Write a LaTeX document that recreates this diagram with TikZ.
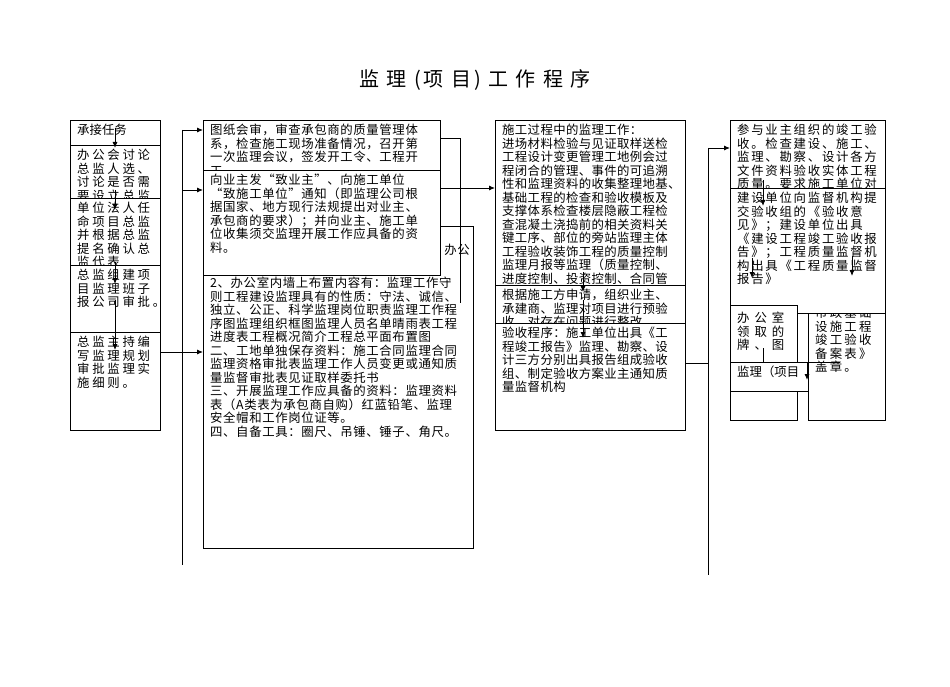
\documentclass[tikz,border=0pt]{standalone}
\usepackage{fontspec}
\newfontfamily\cjk{Noto Sans CJK SC}
\usetikzlibrary{arrows.meta}
\newcommand\bx[7][]{%
\begin{scope}\clip (#2,#3) rectangle (#4,#5);
\fill[white] (#2,#3) rectangle (#4,#5);
\node[txt,#1,anchor=north west] (#7) at ([shift={(7,4)}]#2,#3) {#6};
\end{scope}
\draw[boxline] (#2,#3) rectangle (#4,#5);}
\begin{document}
\begin{tikzpicture}[x=1pt,y=-1pt,
 txt/.style={inner sep=0pt,align=left,font={\cjk\fontsize{12.4}{13.5}\selectfont}},
 sp/.style={font={\cjk\fontsize{12.4}{13.5}\selectfont\addfontfeatures{LetterSpace=#1}}},
 boxline/.style={line width=0.9pt},
 arr/.style={line width=0.9pt,-{Latex[length=6pt,width=5pt]}},
 ln/.style={line width=0.9pt}]
\useasboundingbox (0,0) rectangle (950,687);
\node[font={\cjk\fontsize{20}{22}\selectfont\addfontfeatures{LetterSpace=15}}] (title) at (475,80) {监 理 (项 目) 工 作 程 序};
% column 1
\bx{70}{120}{160}{145}{承接任务}{a1}
\bx[sp=22]{70}{145}{160}{198}{办公会讨论\\总监人选、\\讨论是否需\\要设立总监}{a2}
\bx[sp=22]{70}{198}{160}{265}{单位法人任\\命项目总监\\并根据总监\\提名确认总\\监代表}{a3}
\bx[sp=22]{70}{265}{160}{332}{总监组建项\\目监理班子\\报公司审批。}{a4}
\bx[sp=22]{70}{332}{160}{430}{总监主持编\\写监理规划\\审批监理实\\施细则。}{a5}
\draw[arr] (115,128) -- (115,148);
\draw[arr] (115,190) -- (115,210);
\draw[arr] (115,262) -- (115,284);
\draw[arr] (115,300) -- (115,350);
% column 2
\fill[white] (203,226) rectangle (473,548);
\node[txt,sp=5,anchor=north east] (b3a) at (470,244) {办公};
\node[txt,sp=5,anchor=north west] (b3) at (210,277) {2、办公室内墙上布置内容有：监理工作守\\则工程建设监理具有的性质：守法、诚信、\\独立、公正、科学监理岗位职责监理工作程\\序图监理组织框图监理人员名单晴雨表工程\\进度表工程概况简介工程总平面布置图\\二、工地单独保存资料：施工合同监理合同\\监理资格审批表监理工作人员变更或通知质\\量监督审批表见证取样委托书\\三、开展监理工作应具备的资料：监理资料\\表（A类表为承包商自购）红蓝铅笔、监理\\安全帽和工作岗位证等。\\四、自备工具：圈尺、吊锤、锤子、角尺。};
\draw[boxline] (203,226) rectangle (473,548);
\bx[sp=5]{203}{120}{440}{170}{图纸会审，审查承包商的质量管理体\\系，检查施工现场准备情况，召开第\\一次监理会议，签发开工令、工程开\\工}{b1}
\bx[sp=5]{203}{170}{440}{275}{向业主发“致业主”、向施工单位\\“致施工单位”通知（即监理公司根\\据国家、地方现行法规提出对业主、\\承包商的要求）；并向业主、施工单\\位收集须交监理开展工作应具备的资\\料。}{b2}
\draw[ln] (440,138) -- (460,138) -- (460,303);
\coordinate (l1t) at (182,130); \coordinate (l1b) at (182,565);
\draw[ln] (l1t) -- (l1b);
\draw[arr] (l1t) -- (203,130);
\draw[arr] (182,190) -- (203,190);
\draw[arr] (160,352) -- (203,352);
% column 3
\bx[sp=3]{495}{120}{685}{285}{施工过程中的监理工作：\\进场材料检验与见证取样送检\\工程设计变更管理工地例会过\\程闭合的管理、事件的可追溯\\性和监理资料的收集整理地基、\\基础工程的检查和验收模板及\\支撑体系检查楼层隐蔽工程检\\查混凝土浇捣前的相关资料关\\键工序、部位的旁站监理主体\\工程验收装饰工程的质量控制\\监理月报等监理（质量控制、\\进度控制、投资控制、合同管\\理、信息管理、组织协调）}{c1}
\bx[sp=3]{495}{285}{685}{323}{根据施工方申请，组织业主、\\承建商、监理对项目进行预验\\收，对存在问题进行整改}{c2}
\bx[sp=3]{495}{323}{685}{430}{验收程序：施工单位出具《工\\程竣工报告》监理、勘察、设\\计三方分别出具报告组成验收\\组、制定验收方案业主通知质\\量监督机构}{c3}
\draw[arr] (440,188) -- (495,188);
\draw[arr] (583,272) -- (583,292);
\draw[arr] (583,300) -- (583,338);
\coordinate (l3t) at (708,148); \coordinate (l3b) at (708,575);
\draw[ln] (685,363) -- (708,363);
\draw[ln] (l3t) -- (l3b);
\draw[arr] (l3t) -- (730,148);
% column 4
\bx[sp=18]{808}{300}{885}{420}{\\市政基础\\设施工程\\竣工验收\\备案表》\\盖章。}{d6}
\bx[sp=14]{730}{120}{885}{188}{参与业主组织的竣工验\\收。检查建设、施工、\\监理、勘察、设计各方\\文件资料验收实体工程\\质量。要求施工单位对}{d1}
\bx[sp=14]{730}{188}{885}{313}{建设单位向监督机构提\\交验收组的《验收意\\见》；建设单位出具\\《建设工程竣工验收报\\告》；工程质量监督机\\构出具《工程质量监督\\报告》}{d2}
\draw[boxline] (808,313) -- (885,313);
\bx{730}{390}{797}{420}{}{d5}
\bx[sp=40]{730}{305}{797}{362}{\\办公室\\领取的\\牌、图}{d3}
\bx{730}{362}{808}{391}{监理（项目}{d4}
\draw[ln] (763,348) -- (763,362) -- (840,362);
\draw[arr] (807,362) -- (807,380);
\draw[arr] (763,180) -- (763,206);
\draw[arr] (752,258) -- (752,278);
\draw[arr] (852,256) -- (852,276);
\end{tikzpicture}
\end{document}
